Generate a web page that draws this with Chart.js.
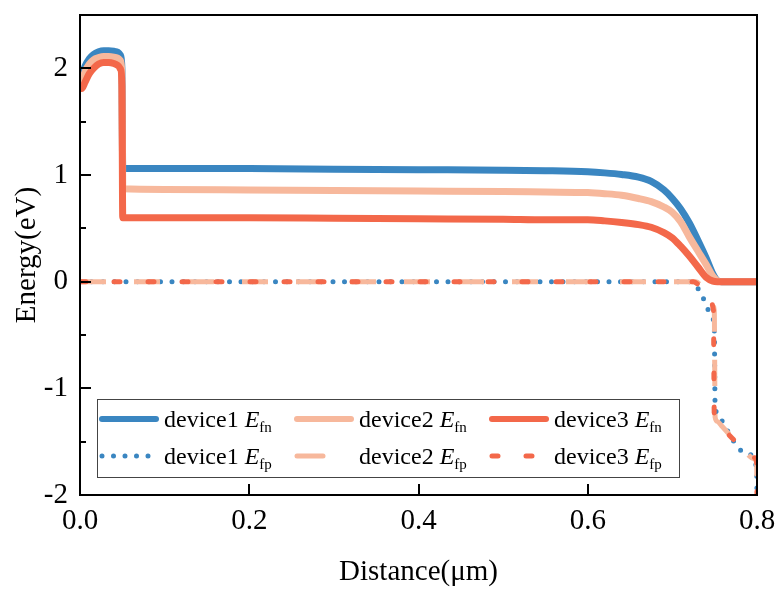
<!DOCTYPE html>
<html>
<head>
<meta charset="utf-8">
<script src="https://cdn.jsdelivr.net/npm/chart.js@4"></script>
<style>
  html, body { margin: 0; padding: 0; background: #fff; }
  #wrap { width: 777px; height: 590px; }
</style>
</head>
<body>
<div id="wrap"><canvas id="energy"></canvas></div>
<script>
// Efn curves share one x grid (µm)
const xEfn = [0, 0.002, 0.006, 0.011, 0.016, 0.022, 0.028, 0.034, 0.04, 0.045, 0.048, 0.0495, 0.0505, 0.1, 0.2, 0.3, 0.4, 0.5, 0.55, 0.6, 0.62, 0.64, 0.66, 0.675, 0.69, 0.7, 0.71, 0.72, 0.73, 0.74, 0.748, 0.753, 0.758, 0.8]
const d1Efn = [1.9, 1.93, 2.02, 2.09, 2.13, 2.155, 2.165, 2.165, 2.16, 2.15, 2.12, 2.0, 1.06, 1.06, 1.06, 1.055, 1.05, 1.045, 1.04, 1.03, 1.02, 1.005, 0.98, 0.94, 0.86, 0.78, 0.68, 0.55, 0.39, 0.22, 0.07, 0.01, 0, 0]
const d2Efn = [1.86, 1.88, 1.97, 2.04, 2.08, 2.1, 2.11, 2.11, 2.105, 2.095, 2.07, 1.95, 0.87, 0.865, 0.86, 0.855, 0.85, 0.845, 0.84, 0.835, 0.825, 0.81, 0.78, 0.75, 0.7, 0.65, 0.56, 0.42, 0.29, 0.16, 0.05, 0.01, 0, 0]
const d3Efn = [1.82, 1.81, 1.87, 1.95, 2.0, 2.04, 2.055, 2.055, 2.045, 2.025, 1.99, 1.85, 0.6, 0.6, 0.6, 0.595, 0.59, 0.585, 0.58, 0.58, 0.57, 0.555, 0.535, 0.51, 0.46, 0.41, 0.33, 0.24, 0.14, 0.04, 0.005, 0, 0, 0]

// Efp curves
const x1Efp = [0, 0.72, 0.728, 0.735, 0.741, 0.747, 0.7495, 0.7505, 0.753, 0.759, 0.766, 0.772, 0.785, 0.7995, 0.8]
const d1Efp = [0, 0, -0.04, -0.13, -0.24, -0.34, -0.42, -1.16, -1.23, -1.31, -1.41, -1.49, -1.6, -1.74, -2]
const x2Efp = [0, 0.728, 0.738, 0.7495, 0.7505, 0.753, 0.758, 0.78, 0.797, 0.7995, 0.8]
const d2Efp = [0, 0, -0.07, -0.27, -1.27, -1.31, -1.35, -1.54, -1.66, -1.69, -2]
const x3Efp = [0, 0.725, 0.735, 0.7485, 0.7495, 0.752, 0.757, 0.78, 0.797, 0.7995, 0.8]
const d3Efp = [0, 0, -0.05, -0.27, -1.25, -1.3, -1.35, -1.54, -1.65, -1.7, -2]

const xTicks = [0, 0.2, 0.4, 0.6, 0.8]
const yLabels = [-2, -1, 0, 1, 2]

const blue = '#3a86c1'
const salmon = '#f7b89c'
const tomato = '#f3684a'
const serif = '"Liberation Serif", "Times New Roman", serif'

const pts = (xs, ys) => xs.map((x, i) => ({ x: x, y: ys[i] }))

const line = (label, xs, ys, color, extra) => Object.assign({
  label: label,
  data: pts(xs, ys),
  borderColor: color,
  backgroundColor: color,
  borderWidth: 6,
  pointRadius: 0,
  fill: false,
  cubicInterpolationMode: 'monotone',
  borderCapStyle: 'round',
  borderJoinStyle: 'round'
}, extra)

// frame + inward ticks
const frame = {
  id: 'frame',
  afterDatasetsDraw(chart) {
    const { ctx, chartArea: a, scales } = chart
    ctx.save()
    ctx.strokeStyle = '#000'
    ctx.lineWidth = 2
    ctx.strokeRect(a.left, a.top, a.right - a.left, a.bottom - a.top)
    scales.y.ticks.forEach(t => {
      if (t.value <= scales.y.min || t.value >= scales.y.max) return
      const py = Math.round(scales.y.getPixelForValue(t.value))
      const len = Number.isInteger(t.value) ? 11 : 6
      ctx.beginPath()
      ctx.moveTo(a.left, py)
      ctx.lineTo(a.left + len, py)
      ctx.stroke()
    })
    scales.x.ticks.forEach(t => {
      if (t.value <= scales.x.min || t.value >= scales.x.max) return
      const px = Math.round(scales.x.getPixelForValue(t.value))
      ctx.beginPath()
      ctx.moveTo(px, a.bottom)
      ctx.lineTo(px, a.bottom - 11)
      ctx.stroke()
    })
    ctx.restore()
  }
}

// legend with italic E and subscript
const legendBox = {
  id: 'legendBox',
  afterDraw(chart) {
    const ctx = chart.ctx
    const cols = [99, 294, 489]
    const rows = [419, 456]
    ctx.save()
    ctx.fillStyle = '#fff'
    ctx.fillRect(97, 399, 582, 78)
    ctx.strokeStyle = '#444'
    ctx.lineWidth = 1
    ctx.strokeRect(97.5, 399.5, 582, 78)
    chart.data.datasets.forEach((ds, i) => {
      const x0 = cols[i % 3]
      const y0 = rows[Math.floor(i / 3)]
      ctx.strokeStyle = ds.borderColor
      ctx.lineWidth = ds.borderDash ? 5 : 6
      ctx.lineCap = 'round'
      ctx.setLineDash(ds.borderDash || [])
      ctx.beginPath()
      ctx.moveTo(x0 + 3, y0)
      ctx.lineTo(x0 + 57, y0)
      ctx.stroke()
      ctx.setLineDash([])
      const parts = ds.label.split(' ')
      let tx = x0 + 65
      const base = y0 + 8
      ctx.fillStyle = '#000'
      ctx.textBaseline = 'alphabetic'
      ctx.textAlign = 'left'
      ctx.font = '24px ' + serif
      ctx.fillText(parts[0] + ' ', tx, base)
      tx += ctx.measureText(parts[0] + ' ').width
      ctx.font = 'italic 24px ' + serif
      ctx.fillText(parts[1][0], tx, base)
      tx += ctx.measureText(parts[1][0]).width
      ctx.font = '15px ' + serif
      ctx.fillText(parts[1].slice(1), tx, base + 5)
    })
    ctx.restore()
  }
}

// keep the plot box where the reference has it, ignore label overhang
const noPad = s => {
  s.paddingTop = 0
  s.paddingBottom = 0
  s.paddingLeft = 0
  s.paddingRight = 0
}

new Chart(document.getElementById('energy'), {
  type: 'line',
  data: {
    datasets: [
      line('device1 Efn', xEfn, d1Efn, blue, { order: 6, borderWidth: 7 }),
      line('device2 Efn', xEfn, d2Efn, salmon, { order: 5, borderWidth: 7 }),
      line('device3 Efn', xEfn, d3Efn, tomato, { order: 4, borderWidth: 7 }),
      line('device1 Efp', x1Efp, d1Efp, blue, { order: 3, borderWidth: 5, borderDash: [0, 11.5] }),
      line('device2 Efp', x2Efp, d2Efp, salmon, { order: 2, borderWidth: 5, borderDash: [26, 28], borderCapStyle: 'butt' }),
      line('device3 Efp', x3Efp, d3Efp, tomato, { order: 1, borderWidth: 5, borderDash: [6, 28] })
    ]
  },
  options: {
    responsive: true,
    maintainAspectRatio: false,
    animation: false,
    layout: { padding: { top: 15, right: 20, left: 0, bottom: 0 } },
    plugins: {
      legend: { display: false },
      tooltip: { enabled: false }
    },
    scales: {
      x: {
        type: 'linear',
        min: 0,
        max: 0.8,
        afterFit: s => { s.height = 95; noPad(s) },
        afterBuildTicks: s => { s.ticks = xTicks.map(v => ({ value: v })) },
        grid: { display: false, drawTicks: false },
        border: { display: false },
        ticks: {
          color: '#000',
          padding: 9,
          maxRotation: 0,
          font: { family: serif, size: 29 },
          callback: v => v.toFixed(1)
        },
        title: {
          display: true,
          text: 'Distance(μm)',
          color: '#000',
          padding: 0,
          font: { family: serif, size: 29 }
        }
      },
      y: {
        type: 'linear',
        min: -2,
        max: 2.5,
        afterFit: s => { s.width = 80; noPad(s) },
        grid: { display: false, drawTicks: false },
        border: { display: false },
        ticks: {
          stepSize: 0.5,
          color: '#000',
          padding: 12,
          font: { family: serif, size: 29 },
          callback: v => yLabels.includes(v) ? String(v) : ''
        },
        title: {
          display: true,
          text: 'Energy(eV)',
          color: '#000',
          padding: { top: 10, bottom: 0 },
          font: { family: serif, size: 29 }
        }
      }
    }
  },
  plugins: [frame, legendBox]
})
</script>
</body>
</html>
